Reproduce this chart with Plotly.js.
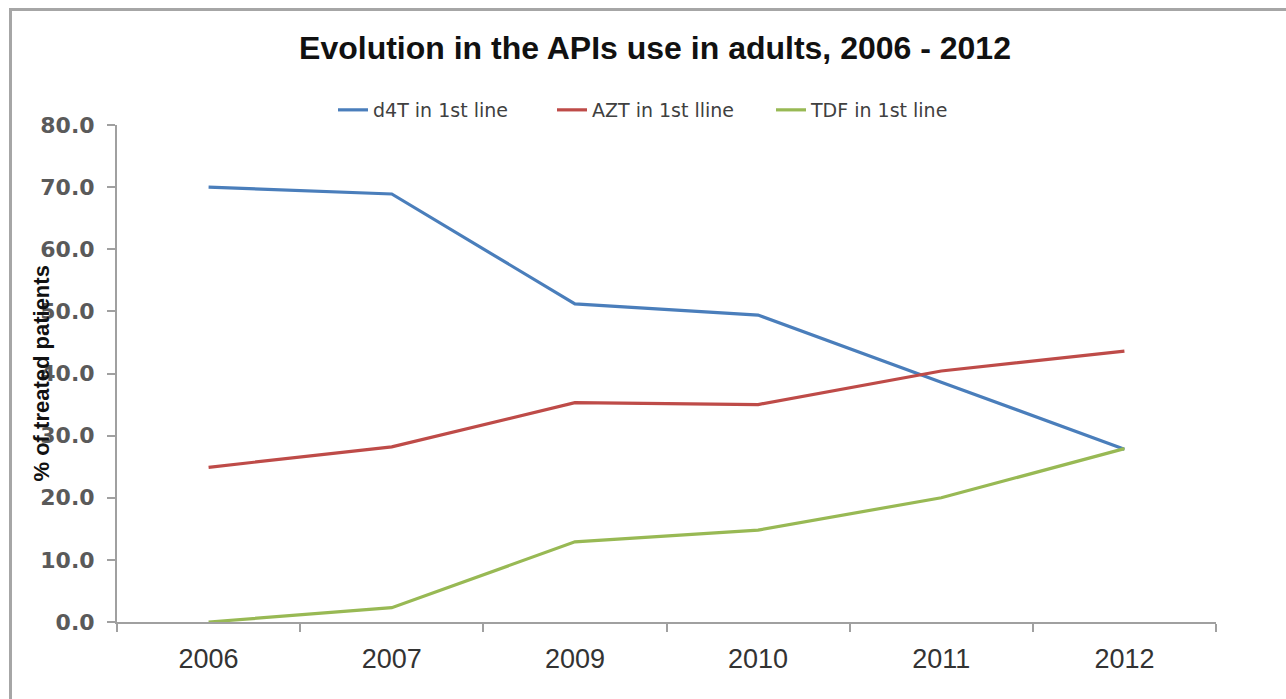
<!DOCTYPE html>
<html>
<head>
<meta charset="utf-8">
<script src="https://cdn.plot.ly/plotly-3.0.1.min.js"></script>
<style>
  html, body { margin: 0; padding: 0; background: #ffffff; }
  #chart { position: absolute; left: 0; top: 0; width: 1286px; height: 699px; }
  #frame { position: absolute; left: 9px; top: 8px; width: 1290px; height: 700px;
           border-left: 3px solid #a6a6a6; border-top: 3px solid #a6a6a6; pointer-events: none; }
</style>
</head>
<body>
<div id="chart"></div>
<div id="frame"></div>
<script>
const years = ["2006", "2007", "2009", "2010", "2011", "2012"];
const d4T = [70.0, 68.9, 51.2, 49.4, 38.6, 27.8];
const AZT = [24.9, 28.2, 35.3, 35.0, 40.4, 43.6];
const TDF = [0.0, 2.3, 12.9, 14.8, 20.0, 27.9];
const seriesNames = ["d4T in 1st line", "AZT in 1st lline", "TDF in 1st line"];
const yTicks = [0, 10, 20, 30, 40, 50, 60, 70, 80];

const colors = ["#4a7ebb", "#be4b48", "#98b954"];
const data = [d4T, AZT, TDF].map((vals, i) => ({
  type: "scatter",
  mode: "lines",
  x: years,
  y: vals,
  name: seriesNames[i],
  line: { color: colors[i], width: 3.2 }
}));

const W = 1286, H = 699;
const L = 117, R = 70, T = 125, B = 77;
const plotW = W - L - R, plotH = H - T - B;

const layout = {
  width: W, height: H,
  margin: { l: L, r: R, t: T, b: B, pad: 0 },
  paper_bgcolor: "#ffffff",
  plot_bgcolor: "#ffffff",
  showlegend: true,
  title: {
    text: "<b>Evolution in the APIs use in adults, 2006 - 2012</b>",
    font: { family: "Liberation Sans, Arial, sans-serif", size: 32, color: "#111111" },
    x: 655 / W, xanchor: "center",
    y: 1 - 48 / H, yanchor: "middle"
  },
  legend: {
    orientation: "h",
    x: (333 - L) / plotW, xanchor: "left",
    y: (H - B - 110) / plotH, yanchor: "middle",
    font: { family: "DejaVu Sans, Verdana, sans-serif", size: 19, color: "#404040" },
    itemwidth: 30,
    entrywidth: 174,
    entrywidthmode: "pixels",
    bgcolor: "rgba(0,0,0,0)"
  },
  xaxis: {
    type: "category",
    categoryorder: "array",
    categoryarray: years,
    range: [-0.5, years.length - 0.5],
    tickson: "boundaries",
    ticks: "outside",
    ticklen: 8,
    tickcolor: "#a0a0a0",
    tickwidth: 2,
    showline: true,
    linecolor: "#a0a0a0",
    linewidth: 2,
    showgrid: false,
    zeroline: false,
    tickfont: { family: "Liberation Sans, Arial, sans-serif", size: 27, color: "#333333" },
    ticklabelstandoff: 12,
    fixedrange: true
  },
  yaxis: {
    range: [0, 80],
    tickvals: yTicks,
    ticktext: yTicks.map(v => v.toFixed(1)),
    ticks: "outside",
    ticklen: 8,
    tickcolor: "#a0a0a0",
    tickwidth: 2,
    showline: true,
    linecolor: "#a0a0a0",
    linewidth: 2,
    showgrid: false,
    zeroline: false,
    tickfont: { family: "DejaVu Sans, Verdana, sans-serif", size: 22, color: "#5a5a5a", weight: "bold" },
    ticklabelstandoff: 8,
    fixedrange: true
  },
  annotations: [{
    text: "<b>% of treated patients</b>",
    xref: "paper", yref: "paper",
    x: (41 - L) / plotW, y: 0.5,
    xanchor: "center", yanchor: "middle",
    textangle: -90,
    showarrow: false,
    font: { family: "Liberation Sans, Arial, sans-serif", size: 22, color: "#111111" }
  }]
};

Plotly.newPlot("chart", data, layout, { staticPlot: true, displayModeBar: false });
</script>
</body>
</html>
